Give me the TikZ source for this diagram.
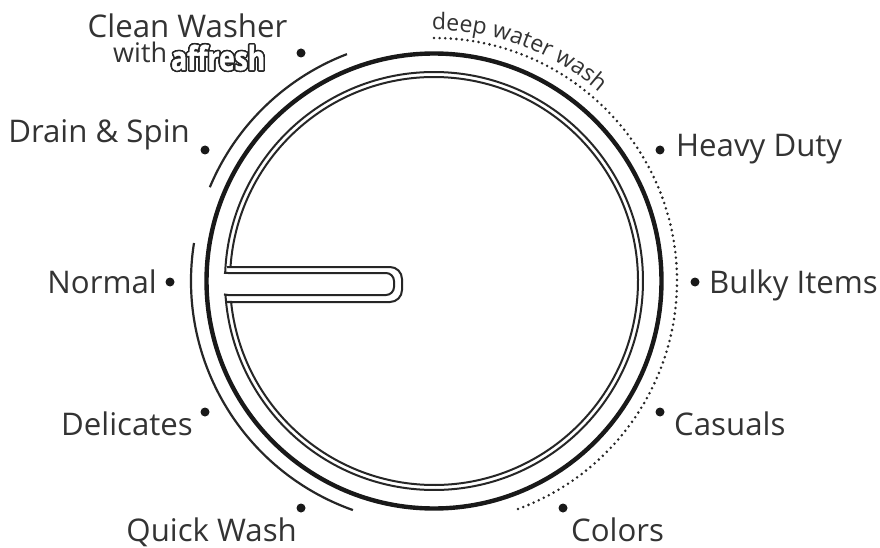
\documentclass[tikz,border=0pt]{standalone}
\usepackage{fontspec}
\setmainfont{Open Sans}
\newfontfamily\affreshFont[FakeStretch=0.8,FakeBold=1.5]{Open Sans}
\usepackage[copies]{contour}
\usetikzlibrary{positioning, calc, decorations.text}
\definecolor{inkGrey}{HTML}{333333}
\newcommand{\deepFont}{\fontsize{23}{23}\selectfont\color{inkGrey}}
\tikzset{
  wLabel/.style={text=inkGrey, font=\fontsize{31.2}{31.2}\selectfont, inner sep=0pt},
  wDot/.style={circle, fill=black!90, minimum size=9pt, inner sep=0pt},
  ringLine/.style={line width=2pt, black!85},
  guideLine/.style={line width=2.2pt, black!85}
}
\begin{document}
\begin{tikzpicture}[x=1pt, y=1pt]
  \useasboundingbox (0,0) rectangle (880,547);
  \fill[white] (0,0) rectangle (880,547);
  \coordinate (drum) at (434,266);
  \draw[line width=4.4pt, black!90] (drum) circle[radius=227.5];
  \draw[ringLine] ($(drum)+(176.07:204)$) arc[start angle=176.07, end angle=-174.1, radius=204]
    [rounded corners=2pt] -- (226,245) [rounded corners=12pt] -- (402,245) -- (402,280) [rounded corners=2pt] -- (226,280) [sharp corners] -- cycle;
  \draw[ringLine] ($(drum)+(177.8:209)$) arc[start angle=177.8, end angle=-176.2, radius=209]
    [rounded corners=2pt] -- (226,252) [rounded corners=8pt] -- (394,252) -- (394,274) [rounded corners=2pt] -- (226,274) [sharp corners] -- cycle;
  \draw[guideLine] ($(drum)+(171:243)$) arc[start angle=171, end angle=250.5, radius=243];
  \draw[guideLine] ($(drum)+(111:243)$) arc[start angle=111, end angle=157.3, radius=243];
  \draw[line width=2.8pt, line cap=round, dash pattern=on 0pt off 5.6pt, black!85] ($(drum)+(90:243)$) arc[start angle=90, end angle=-70.5, radius=243];
  \path[decorate, decoration={text along path, text={|\deepFont|deep water wash}}] ($(drum)+(90.5:251)$) arc[start angle=90.5, end angle=45, radius=251];
  \foreach \nm/\x/\y in {clean/301/494, heavy/660/397, bulky/695/265, casuals/660/135, colors/563/39, quick/301/39, delicates/205/135, normal/170/265, drain/205/397}
    \node[wDot] (dot\nm) at (\x,\y) {};
  \foreach \nm/\x/\y/\txt in {heavy/676/390/Heavy Duty, bulky/709/254/Bulky Items, casuals/674/112/Casuals, colors/571/6/Colors}
    \node[wLabel, anchor=base west] (lab\nm) at (\x,\y) {\txt};
  \foreach \nm/\x/\y/\txt in {quick/297/6/Quick Wash, delicates/193/112/Delicates, normal/157/254/Normal, drain/190/404/Drain \& Spin}
    \node[wLabel, anchor=base east] (lab\nm) at (\x,\y) {\txt};
  \node[wLabel, anchor=base] (labclean) at (187.5,509) {Clean Washer};
  \node[wLabel, anchor=base west, font=\fontsize{27}{27}\selectfont] (labwith) at (113,484) {with};
  \contourlength{1.6pt}
  \node[anchor=base west, inner sep=0pt, font=\affreshFont\bfseries\fontsize{33}{33}\selectfont] (labaffresh) at (171,477) {\contour{black!85}{\textcolor{white}{affresh}}};
\end{tikzpicture}
\end{document}
